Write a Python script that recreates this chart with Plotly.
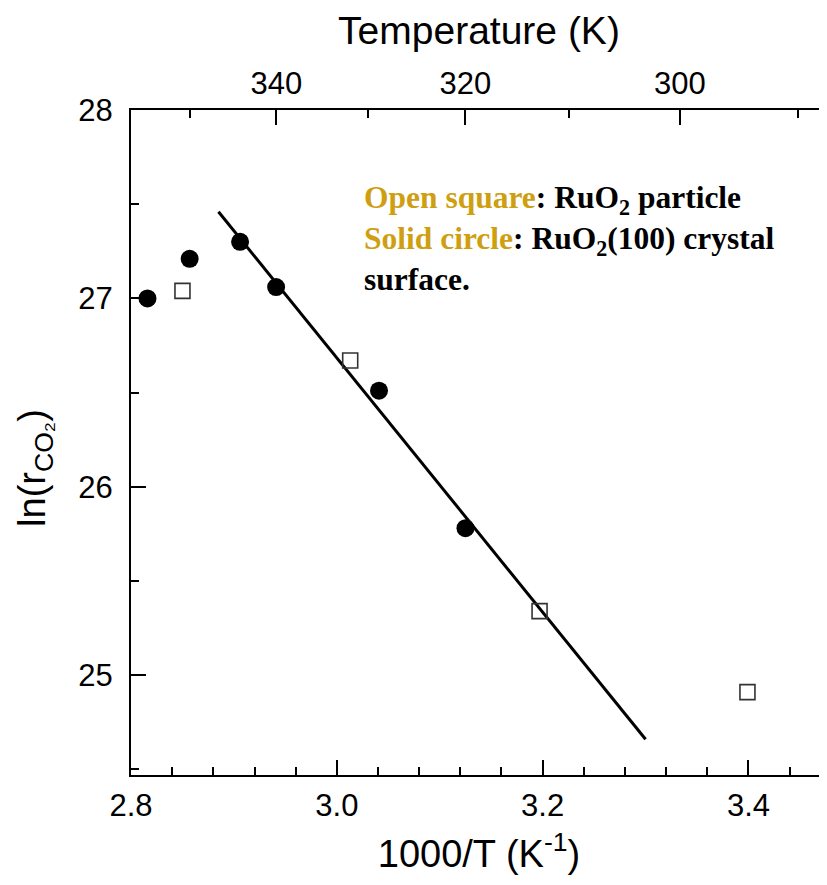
import plotly.graph_objects as go

# 1000/T (K^-1) vs ln(r_CO2)
circle_x = [2.816, 2.857, 2.906, 2.941, 3.041, 3.125]
circle_y = [27.00, 27.21, 27.30, 27.06, 26.51, 25.78]

square_x = [2.850, 3.013, 3.197, 3.399]
square_y = [27.04, 26.67, 25.34, 24.91]

fit_x = [2.885, 3.300]
fit_y = [27.46, 24.66]

temp_major = [340, 320, 300]
temp_minor = [350, 330, 310, 290]

GOLD = "#CF9F12"
AXIS_FONT = "Liberation Sans, Arial, sans-serif"
SERIF = "Liberation Serif, Times New Roman, serif"

fig = go.Figure()

fig.add_trace(go.Scatter(
    x=fit_x, y=fit_y, mode="lines",
    line=dict(color="black", width=3),
    showlegend=False, hoverinfo="skip"
))
fig.add_trace(go.Scatter(
    x=circle_x, y=circle_y, mode="markers", name="Solid circle",
    marker=dict(symbol="circle", size=18, color="black"),
    showlegend=False
))
fig.add_trace(go.Scatter(
    x=square_x, y=square_y, mode="markers", name="Open square",
    marker=dict(symbol="square-open", size=15, color="#333333", line=dict(width=1.6)),
    showlegend=False
))
# invisible trace so the top temperature axis gets drawn
fig.add_trace(go.Scatter(
    x=[1000 / temp_major[0]], y=[27.0], xaxis="x2", mode="markers",
    marker=dict(opacity=0), showlegend=False, hoverinfo="skip"
))

# legend text block
legend_text = (
    f"<b><span style='color:{GOLD}'>Open square</span>: RuO<sub>2</sub> particle</b><br>"
    f"<b><span style='color:{GOLD}'>Solid circle</span>: RuO<sub>2</sub>(100) crystal</b><br>"
    "<b>surface.</b>"
)
fig.add_annotation(
    x=3.024, y=27.64, xref="x", yref="y",
    text=legend_text, showarrow=False, align="left",
    xanchor="left", yanchor="top",
    font=dict(family=SERIF, size=31.5, color="black")
)

# y axis title placed by hand (sits a bit below the plot centre in the original)
fig.add_annotation(
    x=0, y=26.10, xref="paper", yref="y", xshift=-96,
    text="ln(r<sub>CO₂</sub>)", textangle=-90, showarrow=False,
    xanchor="center", yanchor="middle",
    font=dict(family=AXIS_FONT, size=38, color="black")
)

x_range = [2.8, 3.4763]

fig.update_layout(
    width=819, height=877,
    margin=dict(l=123, r=0, t=102, b=110),
    paper_bgcolor="white", plot_bgcolor="white",
    font=dict(family=AXIS_FONT, color="black", size=31),
    xaxis=dict(
        range=x_range, showgrid=False, zeroline=False, automargin=False,
        showline=True, linecolor="black", linewidth=2,
        tick0=2.8, dtick=0.2, tickformat=".1f",
        ticks="inside", ticklen=15, tickwidth=2, tickcolor="black",
        minor=dict(tick0=2.8, dtick=0.04, ticks="inside", ticklen=8, tickwidth=2, tickcolor="black"),
        tickfont=dict(size=31),
        ticklabelstandoff=2,
        title=dict(text="1000/T (K<sup>-1</sup>)", font=dict(size=38), standoff=18),
    ),
    xaxis2=dict(
        range=x_range, overlaying="x", side="top", anchor="y",
        showgrid=False, zeroline=False, automargin=False,
        showline=True, linecolor="black", linewidth=2,
        tickmode="array",
        tickvals=[1000 / t for t in temp_major],
        ticktext=[str(t) for t in temp_major],
        ticks="inside", ticklen=15, tickwidth=2, tickcolor="black",
        minor=dict(tickmode="array", tickvals=[1000 / t for t in temp_minor],
                   ticks="inside", ticklen=8, tickwidth=2, tickcolor="black"),
        tickfont=dict(size=31),
        ticklabelstandoff=2,
        title=dict(text="Temperature (K)", font=dict(size=39), standoff=9),
    ),
    yaxis=dict(
        range=[24.47, 28.0], showgrid=False, zeroline=False, automargin=False,
        showline=True, linecolor="black", linewidth=2,
        tick0=25, dtick=1,
        ticks="inside", ticklen=15, tickwidth=2, tickcolor="black",
        minor=dict(tick0=24.5, dtick=0.5, ticks="inside", ticklen=8, tickwidth=2, tickcolor="black"),
        tickfont=dict(size=31),
        ticklabelstandoff=10,
    ),
)

fig.write_html("out.html")
